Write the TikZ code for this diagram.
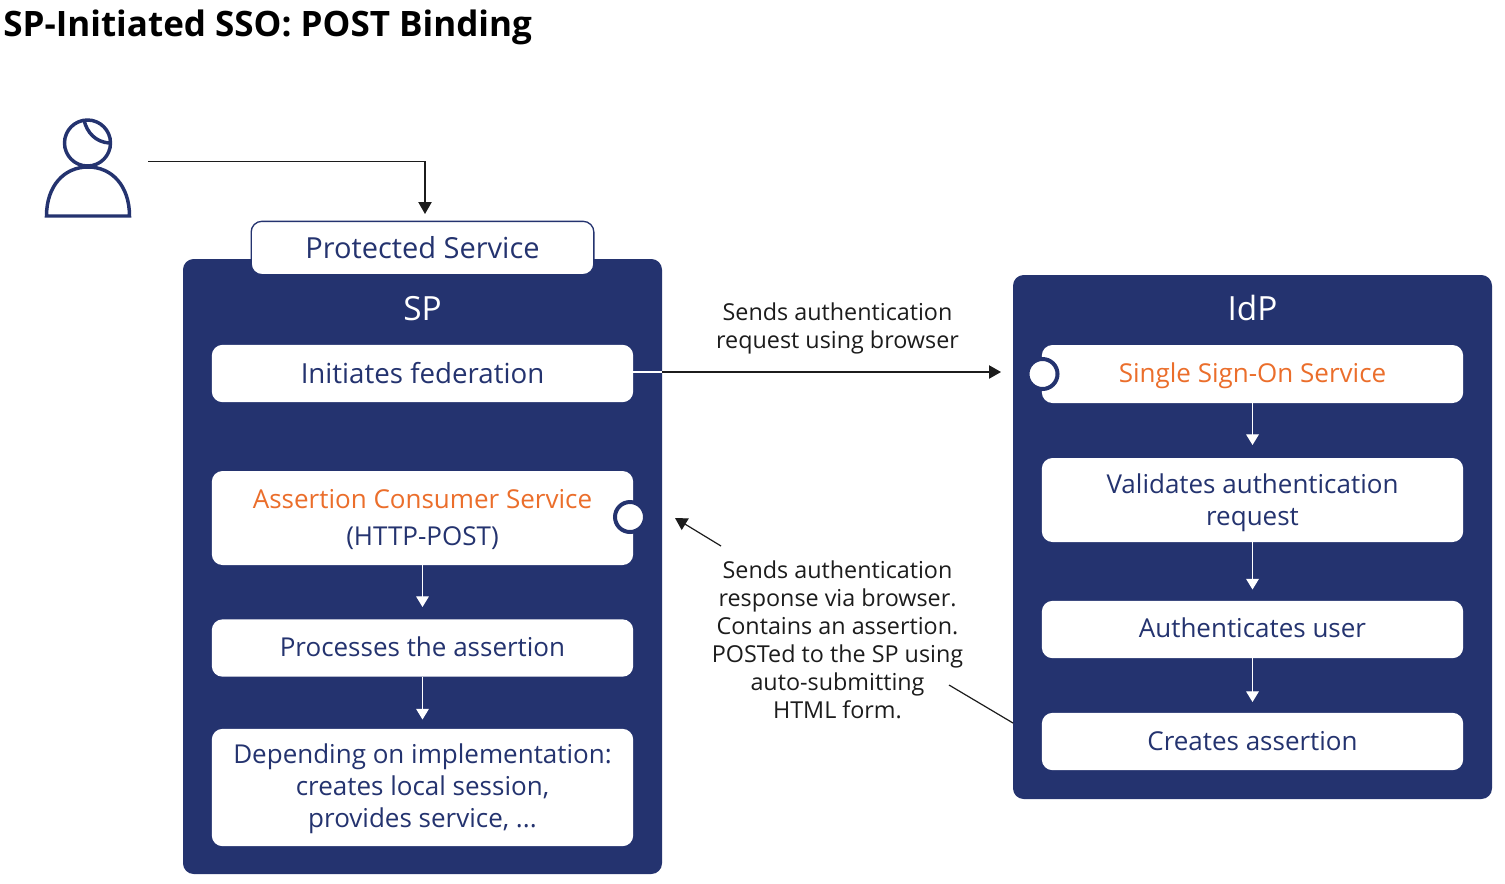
\documentclass[tikz,border=0pt]{standalone}
\usepackage{fontspec}
\setmainfont{Open Sans}
\usetikzlibrary{arrows.meta}
\definecolor{navy}{HTML}{24336F}
\definecolor{orng}{HTML}{EB6E2B}
\definecolor{ink}{HTML}{1C1C1C}
\newcommand{\boxfont}{\fontsize{19.5}{23.8}\selectfont}
\newcommand{\capfont}{\fontsize{17.5}{21}\selectfont}
\newcommand{\liftline}[2]{\raisebox{#1}[\height][\depth]{#2}}
\newcommand{\liftrows}[2]{\raisebox{#1}[\height][\depth]{\begin{tabular}{@{}c@{}}#2\end{tabular}}}
\tikzset{
 panel/.style={fill=navy,rounded corners=8pt,minimum width=359.25pt,inner sep=0pt,text=white,anchor=center},
 card/.style={fill=white,rounded corners=8pt,minimum width=316pt,inner sep=0pt,text=navy,font=\boxfont,align=center,anchor=center},
 port/.style={circle,draw=navy,line width=3pt,fill=white,minimum size=22.5pt,inner sep=0pt},
 flowline/.style={draw=ink,line width=0.9pt},
 whiteflow/.style={draw=white,line width=0.9pt,-{Triangle[length=8pt,width=9.5pt,fill=white]}},
 darkflow/.style={flowline,-{Triangle[length=9pt,width=10pt,fill=ink]}},
 captext/.style={font=\capfont,align=center,text=ink,inner sep=0pt},
 person/.style={draw=navy,line width=2.6pt}
}
\begin{document}
\begin{tikzpicture}[x=0.75pt,y=-0.75pt]
\useasboundingbox (0,0) rectangle (1505,883);
\node[anchor=base west,inner sep=0pt,font=\fontsize{26.25}{30}\selectfont\bfseries,text=black] (title) at (3,36) {SP-Initiated SSO: POST Binding};
% person
\coordinate (head) at (87.5,143);
\draw[person] (head) circle (23);
\draw[person] (84,120) .. controls (87,133) and (96,142) .. (109,143);
\draw[person,line join=miter] (46.5,216) .. controls (46.5,186) and (64,167) .. (88,167) .. controls (112,167) and (129.5,186) .. (129.5,216) -- cycle;
\coordinate (userout) at (148,161.5);
% panels
\node[panel,minimum height=461.25pt] (sp) at (422.5,566.5) {};
\node[panel,minimum height=393pt] (idp) at (1252.5,537) {};
\node[text=white,font=\fontsize{25}{30}\selectfont,inner sep=0pt] (splabel) at (422.5,308.5) {SP};
\node[text=white,font=\fontsize{25}{30}\selectfont,inner sep=0pt] (idplabel) at (1252.5,308) {IdP};
\node[card,draw=navy,line width=1pt,minimum width=257pt,minimum height=40pt,font=\fontsize{21.75}{26}\selectfont] (prot) at (422.5,248) {Protected Service};
% SP cards
\node[card,minimum height=43pt,font=\fontsize{20.75}{25}\selectfont] (init) at (422.5,373.5) {Initiates federation};
\node[card,minimum height=70.5pt] (acs) at (422.5,518) {\liftrows{-1.9pt}{\textcolor{orng}{Assertion Consumer Service}\\[3.4pt](HTTP-POST)}};
\node[card,minimum height=43pt] (proc) at (422.5,648) {\liftline{0.75pt}{Processes the assertion}};
\node[card,minimum height=88pt] (dep) at (422.5,787.5) {\liftrows{-1.1pt}{Depending on implementation:\\creates local session,\\provides service, ...}};
\node[port] (acsport) at (630,517) {};
% IdP cards
\node[card,minimum height=43.5pt] (sso) at (1252.5,374) {\liftline{-1.5pt}{\textcolor{orng}{Single Sign-On Service}}};
\node[card,minimum height=63pt] (val) at (1252.5,500) {\liftrows{-2.25pt}{Validates authentication\\request}};
\node[card,minimum height=43pt] (auth) at (1252.5,629.5) {\liftline{1.5pt}{Authenticates user}};
\node[card,minimum height=43pt] (creat) at (1252.5,741.5) {Creates assertion};
\node[port] (ssoport) at (1042.5,374) {};
% connectors
\coordinate (protin) at (425,214);
\draw[darkflow] (userout) -| (protin);
\coordinate (spedge) at (662,372);
\coordinate (idpin) at (1001,372);
\draw[draw=white,line width=0.9pt] (init.east |- spedge) -- (spedge);
\draw[darkflow] (spedge) -- (idpin);
\coordinate (s1) at (422.5,607);\coordinate (s2) at (422.5,719.5);
\draw[whiteflow] (acs.south) -- (s1);
\draw[whiteflow] (proc.south) -- (s2);
\coordinate (i1) at (1252.5,445);\coordinate (i2) at (1252.5,589.5);\coordinate (i3) at (1252.5,702);
\draw[whiteflow] (sso.south) -- (i1);
\draw[whiteflow] (val.south) -- (i2);
\draw[whiteflow] (auth.south) -- (i3);
\coordinate (r1) at (1013,723);\coordinate (r2) at (949,685);
\coordinate (r3) at (721,546);\coordinate (r4) at (675,518);
\draw[flowline] (r1) -- (r2);
\draw[darkflow] (r3) -- (r4);
\node[captext] (req) at (837.5,328) {Sends authentication\\request using browser};
\node[captext] (resp) at (837.5,639.5) {Sends authentication\\response via browser.\\Contains an assertion.\\POSTed to the SP using\\auto-submitting\\HTML form.};
\end{tikzpicture}
\end{document}
